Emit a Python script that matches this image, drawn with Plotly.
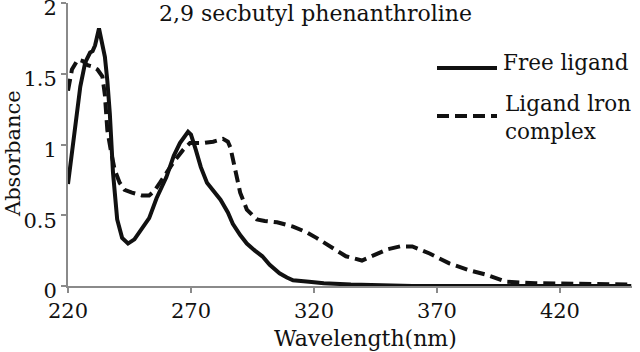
import plotly.graph_objects as go

# Data
wl_free = [220, 221, 223, 225, 227, 229, 230, 231, 232.6, 234, 235, 236, 237, 238.3, 240, 242,
           244.4, 247, 250, 253, 256, 260, 263, 265.5, 268.8, 270, 272, 274, 276.5, 279, 282,
           285, 287, 290, 292.7, 296, 299, 302, 306, 309, 311.5, 318, 324, 335, 360, 449]
abs_free = [0.72, 0.85, 1.10, 1.41, 1.58, 1.65, 1.66, 1.70, 1.82, 1.70, 1.62, 1.45, 1.22, 0.80,
            0.47, 0.34, 0.30, 0.33, 0.40, 0.48, 0.62, 0.77, 0.92, 1.01, 1.09, 1.07, 0.96, 0.84,
            0.73, 0.67, 0.61, 0.52, 0.44, 0.36, 0.30, 0.25, 0.21, 0.15, 0.09, 0.06, 0.04, 0.03,
            0.02, 0.01, 0.0, 0.0]

wl_complex = [220, 221.6, 224, 226, 228, 230, 232, 234, 235, 236, 237.5, 239, 241, 243, 246, 250,
              253, 255, 257.4, 260, 262.7, 266.7, 269.6, 275, 279, 283, 285, 286, 288, 290,
              292.7, 296.8, 300, 305, 311.5, 317, 321, 326.5, 333, 339.5, 345.6, 350, 355, 360,
              367, 375, 383.4, 390, 398, 410, 449]
abs_complex = [1.38, 1.53, 1.60, 1.59, 1.56, 1.55, 1.53, 1.48, 1.35, 1.10, 0.95, 0.82, 0.73, 0.68,
               0.66, 0.64, 0.64, 0.67, 0.73, 0.80, 0.87, 0.96, 1.01, 1.01, 1.02, 1.04, 1.02, 0.98,
               0.82, 0.66, 0.54, 0.47, 0.46, 0.45, 0.42, 0.38, 0.34, 0.28, 0.21, 0.18, 0.23, 0.26,
               0.28, 0.28, 0.23, 0.16, 0.11, 0.08, 0.03, 0.02, 0.01]

x_ticks = [220, 270, 320, 370, 420]
y_ticks = [0, 0.5, 1, 1.5, 2]
y_tick_labels = ["0", "0.5", "1", "1.5", "2"]

title_text = "2,9 secbutyl phenanthroline"
series_names = ["Free ligand", "Ligand lron<br>complex"]
x_title = "Wavelength(nm)"
y_title = "Absorbance"

FONT = "DejaVu Serif"
INK = "#111111"
AXIS = "#8a8a8a"
LW = 4.0

fig = go.Figure()
fig.add_trace(go.Scatter(x=wl_free, y=abs_free, mode="lines", name=series_names[0],
                         line=dict(color=INK, width=LW), showlegend=False))
fig.add_trace(go.Scatter(x=wl_complex, y=abs_complex, mode="lines", name=series_names[1],
                         line=dict(color=INK, width=LW, dash="12px,6px"), showlegend=False))

# manual legend (paper coords: plot area x 68..632, y 3..286)
def px(xp):
    return (xp - 68) / (632 - 68)

def py(yp):
    return (286 - yp) / (286 - 3)

fig.add_shape(type="line", xref="paper", yref="paper", x0=px(437), x1=px(497), y0=py(68), y1=py(68),
              line=dict(color=INK, width=LW))
fig.add_shape(type="line", xref="paper", yref="paper", x0=px(437), x1=px(497), y0=py(116), y1=py(116),
              line=dict(color=INK, width=LW, dash="12px,6px"))
fig.add_annotation(xref="paper", yref="paper", x=px(501), y=py(63), text=series_names[0],
                   showarrow=False, xanchor="left", yanchor="middle",
                   font=dict(family=FONT, size=21.5, color=INK))
fig.add_annotation(xref="paper", yref="paper", x=px(503), y=py(117), text=series_names[1],
                   showarrow=False, xanchor="left", yanchor="middle", align="left",
                   font=dict(family=FONT, size=21.5, color=INK))

# title
fig.add_annotation(xref="paper", yref="paper", x=px(315), y=py(13), text=title_text,
                   showarrow=False, xanchor="center", yanchor="middle",
                   font=dict(family=FONT, size=22, color=INK))

# axis titles
fig.add_annotation(xref="paper", yref="paper", x=px(365), y=py(338), text=x_title,
                   showarrow=False, xanchor="center", yanchor="middle",
                   font=dict(family=FONT, size=22, color=INK))
fig.add_annotation(xref="paper", yref="paper", x=px(13), y=py(154), text=y_title,
                   showarrow=False, xanchor="center", yanchor="middle", textangle=-90,
                   font=dict(family=FONT, size=21, color=INK))

fig.update_layout(
    width=640, height=352,
    margin=dict(l=68, r=8, t=3, b=66),
    paper_bgcolor="white", plot_bgcolor="white",
    font=dict(family=FONT, size=21, color=INK),
    xaxis=dict(range=[220, 449.3], tickmode="array", tickvals=x_ticks,
               ticktext=[str(t) for t in x_ticks], automargin=False,
               showgrid=False, zeroline=False, showline=True, linecolor=AXIS, linewidth=2,
               ticks="outside", ticklen=5, tickcolor=AXIS, tickwidth=2),
    yaxis=dict(range=[0, 2], tickmode="array", tickvals=y_ticks, ticktext=y_tick_labels,
               automargin=False, ticklabeloverflow="allow", ticklabelshift=5,
               showgrid=False, zeroline=False, showline=True, linecolor=AXIS, linewidth=2,
               ticks="outside", ticklen=5, tickcolor=AXIS, tickwidth=2),
)

fig.write_html("out.html", config={"displayModeBar": False},
               post_script="document.body.style.margin='0';document.body.style.padding='0';")
